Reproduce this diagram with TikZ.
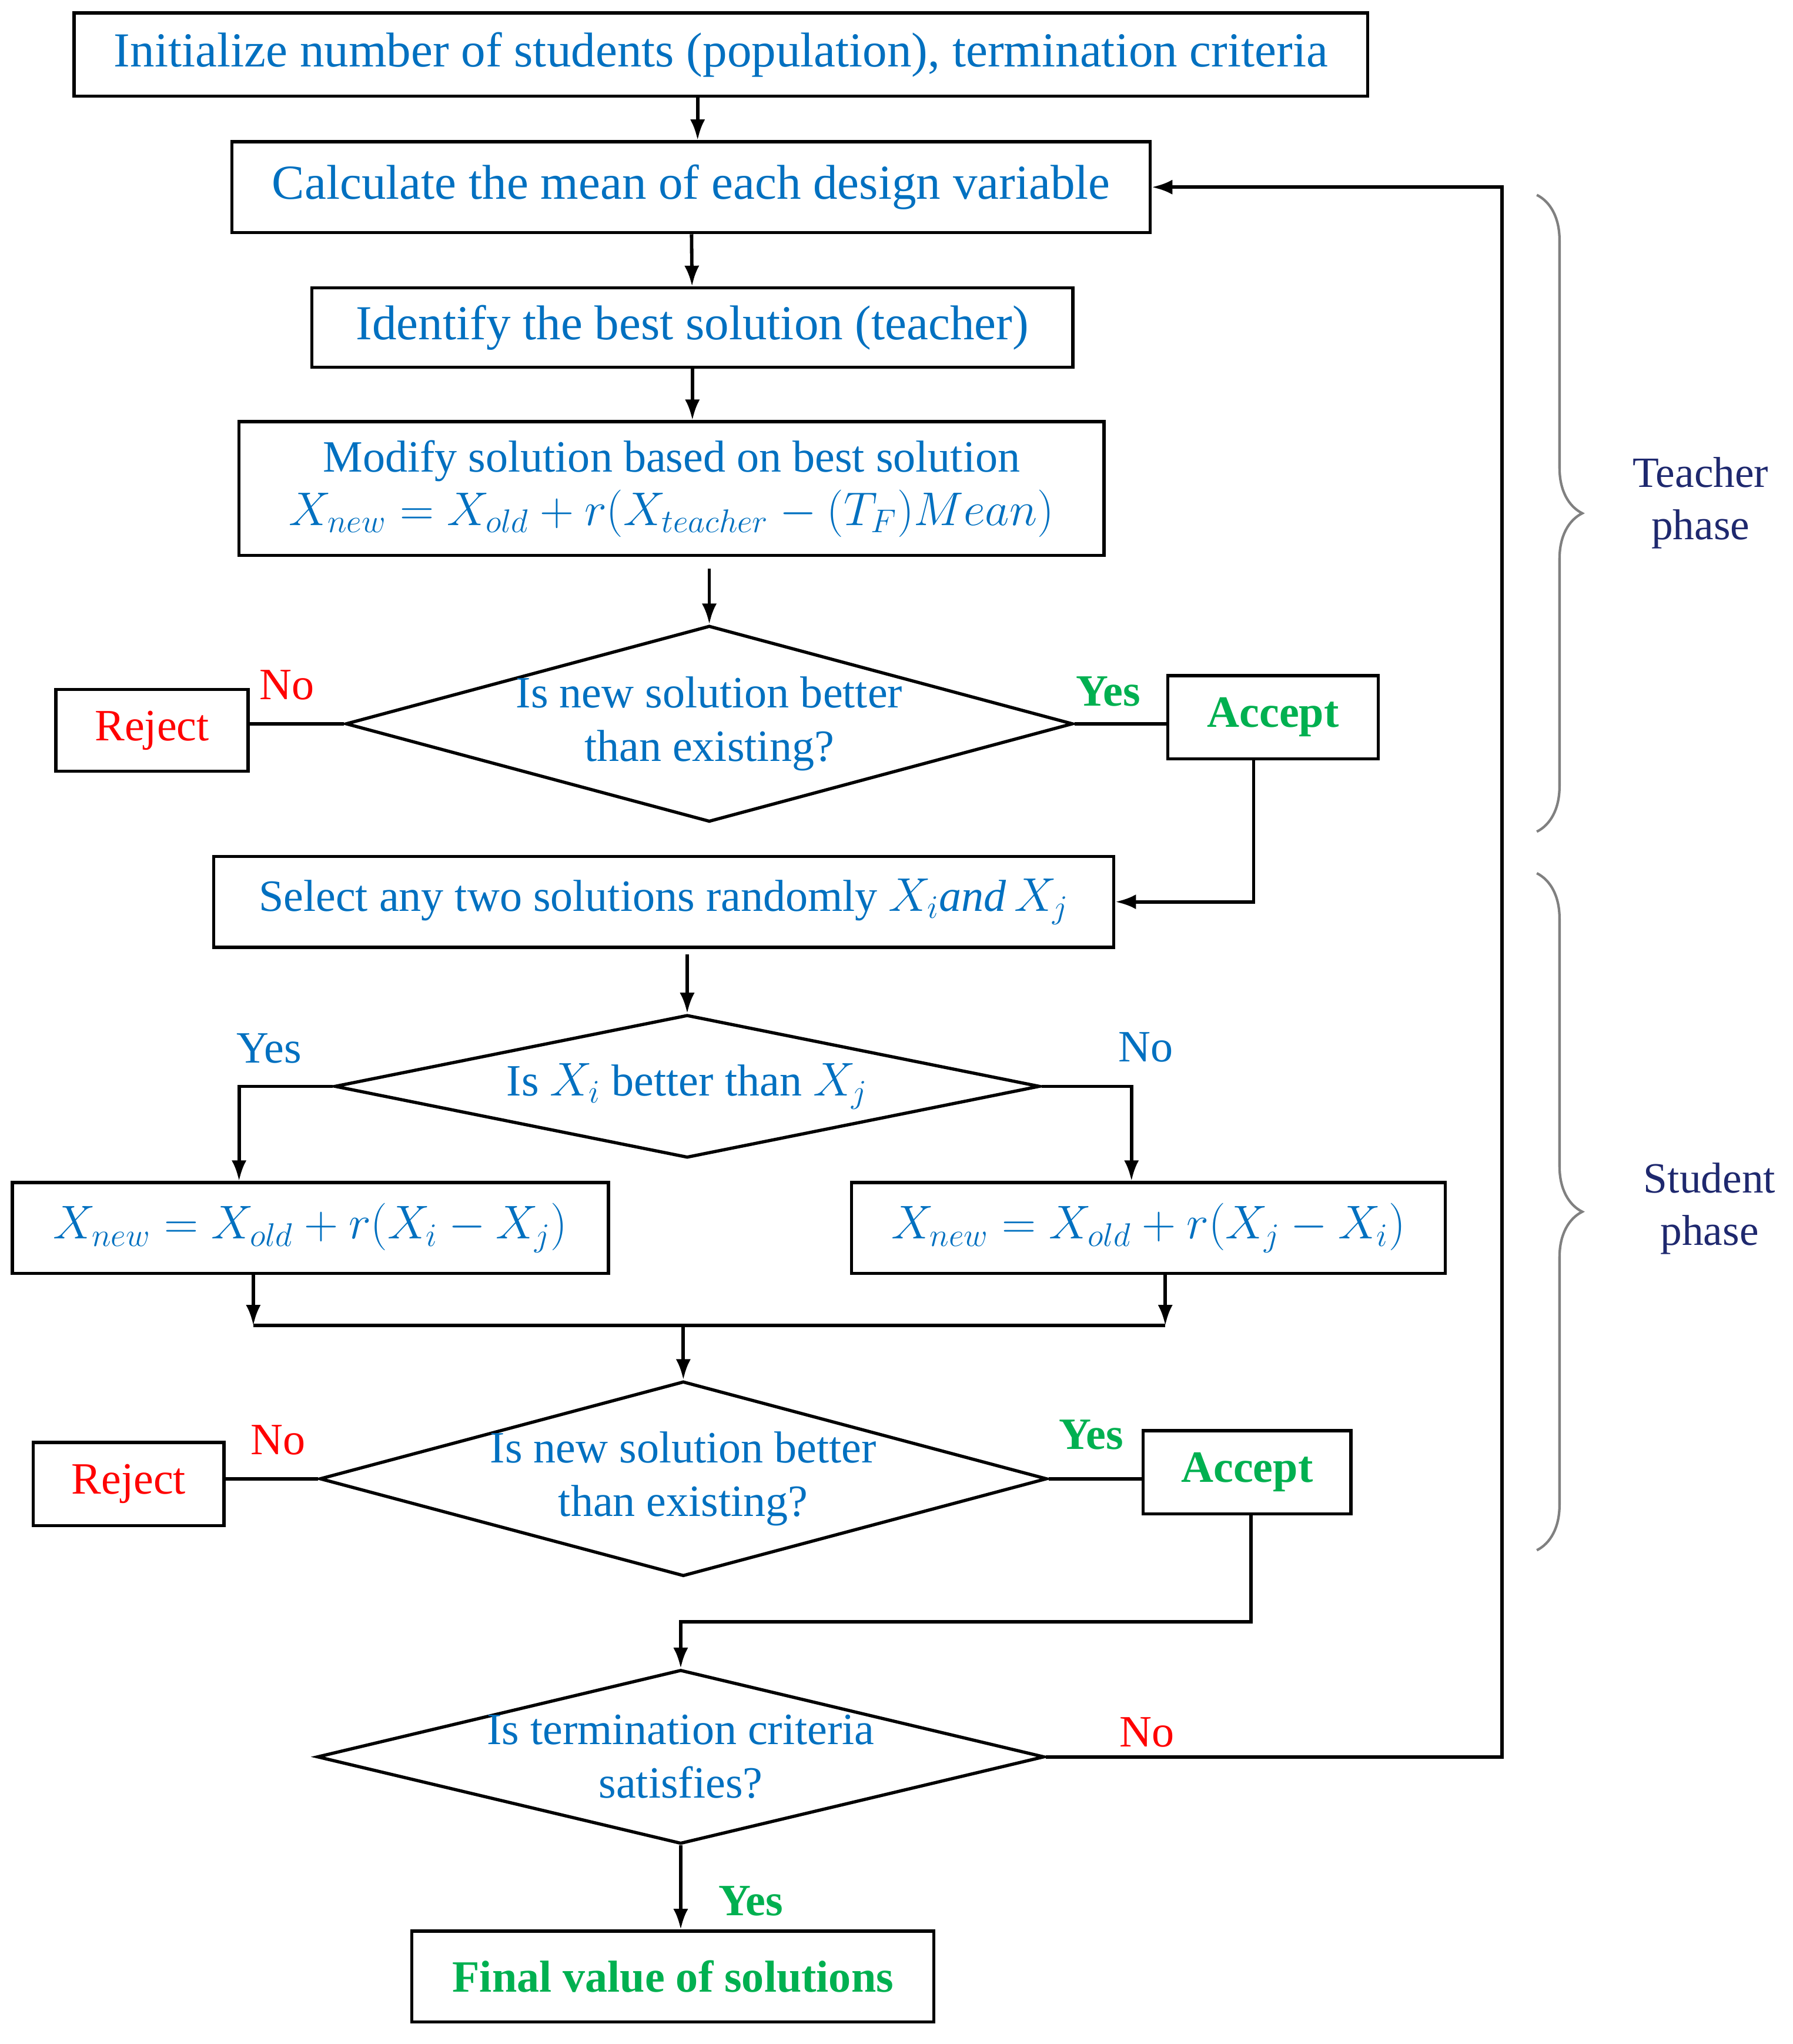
\documentclass[tikz,border=0pt]{standalone}
\usepackage{fontspec}
\setmainfont{Liberation Serif}
\usetikzlibrary{shapes.geometric,arrows.meta,decorations.pathreplacing}
\definecolor{txtblue}{RGB}{0,112,192}
\definecolor{txtred}{RGB}{255,0,0}
\definecolor{txtgreen}{RGB}{0,176,80}
\definecolor{phasenavy}{RGB}{30,40,110}
\tikzset{
  procbox/.style={draw,line width=1.4pt,rectangle,inner sep=0pt,align=center,
    text=txtblue,font=\fontsize{19.6}{23.5}\selectfont},
  bigbox/.style={procbox,font=\fontsize{21.4}{25}\selectfont},
  rejbox/.style={procbox,text=txtred},
  accbox/.style={procbox,text=txtgreen,font=\fontsize{19.6}{23.5}\selectfont\bfseries},
  decision/.style={draw,line width=1.4pt,diamond,inner sep=0pt},
  qtext/.style={align=center,text=txtblue,font=\fontsize{19.6}{23.5}\selectfont},
  nolab/.style={text=txtred,font=\fontsize{19.6}{23.5}\selectfont},
  yeslab/.style={text=txtgreen,font=\fontsize{19.6}{23.5}\selectfont\bfseries},
  branchlab/.style={text=txtblue,font=\fontsize{19.6}{23.5}\selectfont},
  phasebrace/.style={decorate,decoration={brace,amplitude=0.7cm},draw=gray,line width=1.1pt},
  phaselab/.style={align=center,text=phasenavy,font=\fontsize{18.9}{22.8}\selectfont},
}
\begin{document}
\begin{tikzpicture}[x=0.02cm,y=-0.02cm,>={Latex[length=9pt,width=6.5pt]},line width=1.5pt]
\useasboundingbox (0,0) rectangle (1380,1573);
% teacher phase
\node[bigbox,minimum width=19.92cm,minimum height=1.28cm] (init) at (555,42)
    {Initialize number of students (population), termination criteria};
\node[bigbox,minimum width=14.14cm,minimum height=1.4cm] (mean) at (532,144)
    {Calculate the mean of each design variable};
\node[bigbox,minimum width=11.72cm,minimum height=1.22cm] (best) at (533,252)
    {Identify the best solution (teacher)};
\node[procbox,minimum width=13.32cm,minimum height=2.06cm] (modify) at (517,376)
    {Modify solution based on best solution\\
     $X_{new}=X_{old}+r(X_{teacher}-(T_F)Mean)$};
\node[decision,minimum width=11.2cm,minimum height=3.02cm] (q1) at (546,557) {};
\node[qtext] (q1t) at (q1) {Is new solution better\\than existing?};
\node[rejbox,minimum width=2.96cm,minimum height=1.26cm] (rej1) at (117,562) {Reject};
\node[accbox,minimum width=3.24cm,minimum height=1.28cm] (acc1) at (980,552) {Accept};
% student phase
\node[procbox,minimum width=13.86cm,minimum height=1.4cm] (select) at (511,694)
    {Select any two solutions randomly $X_i\mathit{and}\,X_j$};
\node[decision,minimum width=10.86cm,minimum height=2.2cm] (q2) at (529,836) {};
\node[qtext] (q2t) at (q2) {Is $X_i$ better than $X_j$};
\node[procbox,minimum width=9.18cm,minimum height=1.4cm] (upd1) at (239,945)
    {$X_{new}=X_{old}+r\Bigl(X_i-X_j\Bigr)$};
\node[procbox,minimum width=9.14cm,minimum height=1.4cm] (upd2) at (884,945)
    {$X_{new}=X_{old}+r\Bigl(X_j-X_i\Bigr)$};
\node[decision,minimum width=11.2cm,minimum height=3.0cm] (q3) at (526,1138) {};
\node[qtext] (q3t) at (q3) {Is new solution better\\than existing?};
\node[rejbox,minimum width=2.94cm,minimum height=1.28cm] (rej2) at (99,1142) {Reject};
\node[accbox,minimum width=3.2cm,minimum height=1.28cm] (acc2) at (960,1133) {Accept};
\node[decision,minimum width=11.2cm,minimum height=2.68cm] (q4) at (524,1352) {};
\node[qtext] (q4t) at (q4) {Is termination criteria\\satisfies?};
\node[accbox,minimum width=8.04cm,minimum height=1.4cm] (final) at (518,1521)
    {Final value of solutions};

\draw[->] (init.south -| 537,0) -- (mean.north -| 537,0);
\draw[->] (mean) -- (best);
\draw[->] (best.south) -- (best.south |- modify.north);
\draw[->] ([yshift=-0.18cm]q1.north |- modify.south) -- (q1.north);
\draw (q1.west) -- (q1.west -| rej1.east);
\draw (q1.east) -- (q1.east -| acc1.west);
\draw[->] ([xshift=-0.3cm]acc1.south) |- (select.east);
\draw[->] ([yshift=-0.08cm]q2.north |- select.south) -- (q2.north);
\draw[->] (q2.west) -| ([xshift=-1.1cm]upd1.north);
\draw[->] (q2.east) -| ([xshift=-0.26cm]upd2.north);
\coordinate (joinL) at (195,1020);
\coordinate (joinR) at (897,1020);
\draw[->] (upd1.south -| joinL) -- (joinL);
\draw[->] (upd2.south -| joinR) -- (joinR);
\draw (joinL) -- (joinR);
\draw[->] (q3.north |- joinL) -- (q3.north);
\draw (q3.west) -- (q3.west -| rej2.east);
\draw (q3.east) -- (q3.east -| acc2.west);
\draw[->] ([xshift=0.06cm]acc2.south) -- ++(0,82) -| (q4.north);
\draw[->] (q4.east) -- ++(351,0) |- (mean.east);
\draw[->] (q4.south) -- (q4.south |- final.north);

\node[nolab] (no1) at (221,527) {No};
\node[yeslab] (yes1) at (853,532) {Yes};
\node[branchlab] (yes2) at (207,807) {Yes};
\node[branchlab] (no2) at (882,806) {No};
\node[nolab] (no3) at (214,1108) {No};
\node[yeslab] (yes3) at (840,1104) {Yes};
\node[nolab] (no4) at (883,1333) {No};
\node[yeslab] (yes4) at (578,1463) {Yes};

\draw[phasebrace] (1183,150) -- (1183,640);
\draw[phasebrace] (1183,672) -- (1183,1193);
\node[phaselab] (tphase) at (1309,387) {Teacher\\phase};
\node[phaselab] (sphase) at (1316,930) {Student\\phase};
\end{tikzpicture}
\end{document}
